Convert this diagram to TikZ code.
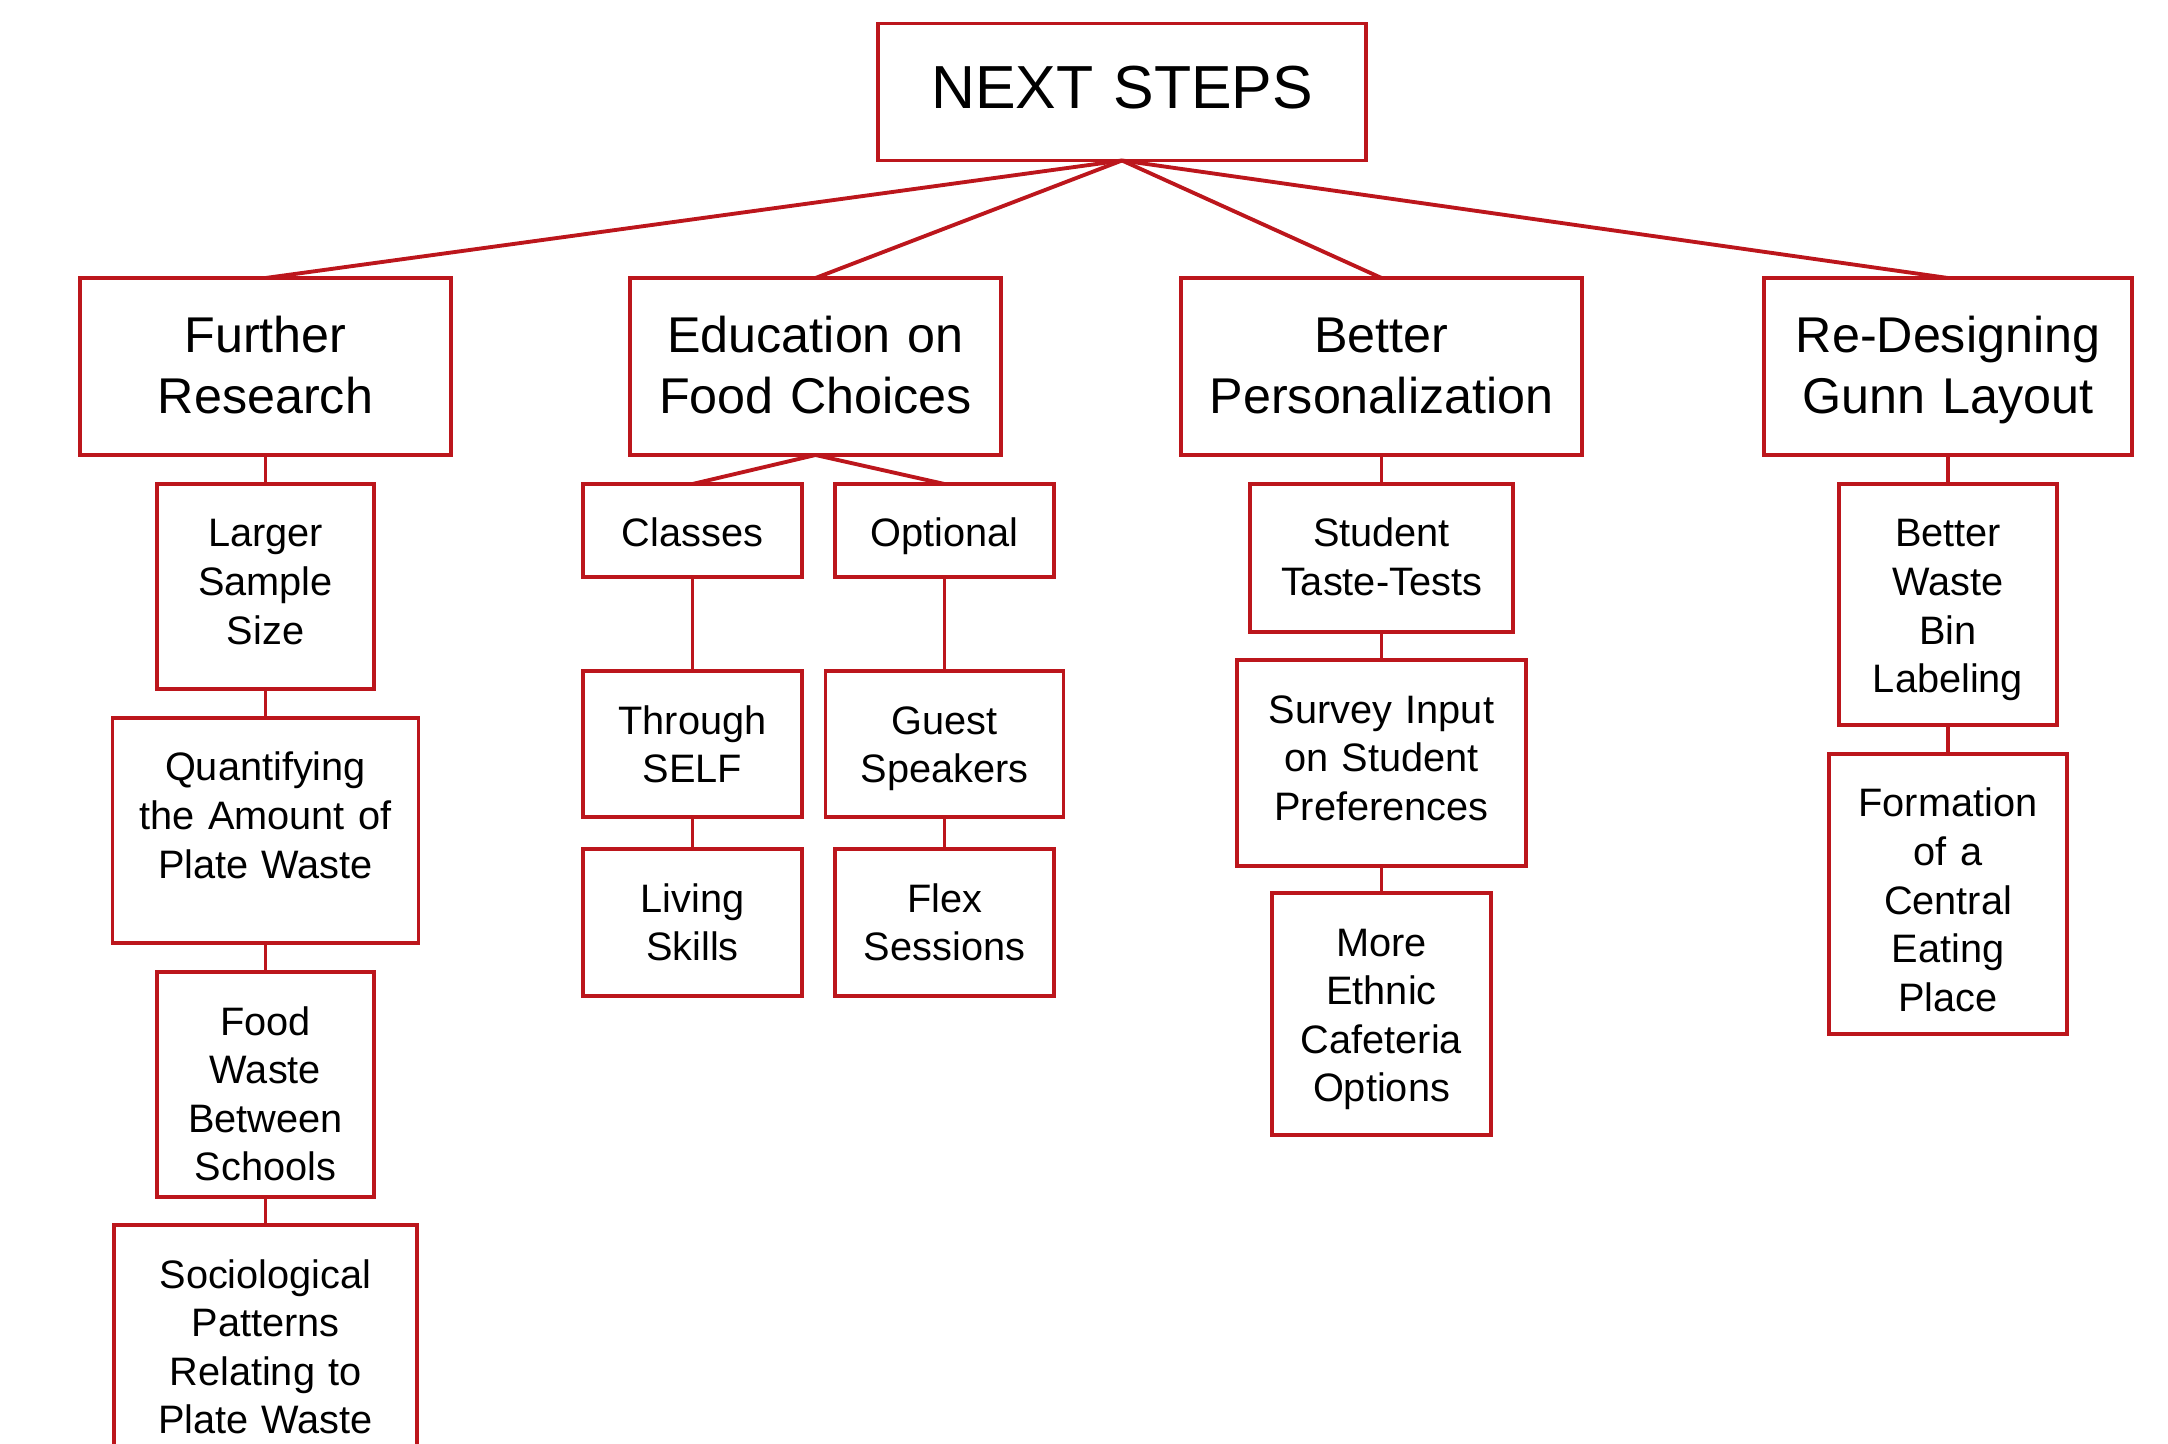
\documentclass[tikz,border=0pt]{standalone}
\usepackage{fontspec}
\setmainfont{Liberation Sans}
\usetikzlibrary{positioning}
\definecolor{stepred}{RGB}{188,22,28}

\begin{document}
\begin{tikzpicture}[node distance=0.29cm,
    base/.style={draw=stepred, line width=1.1pt, align=center, inner sep=0pt, outer sep=0pt},
    box/.style 2 args={base, text width=#1, text height=0.63cm, text depth=#2,
      font=\fontsize{11.3}{13.8}\selectfont},
    topic/.style={base, text width=#1, text height=0.75cm, text depth=1.02cm,
      font=\fontsize{14.3}{17.3}\selectfont},
    every edge/.style={draw=stepred, line width=1.1pt}]
  \useasboundingbox (0,0) rectangle (21.68,-14.44);
  \clip (0,0) rectangle (21.68,-14.44);
  % top
  \node[base, text width=4.88cm, text height=0.85cm, text depth=0.52cm,
    font=\fontsize{17.3}{20}\selectfont] (root) at (11.22,-0.92) {NEXT STEPS};
  \node[topic=3.71cm] (research) at (2.655,-3.665) {Further\\Research};
  \node[topic=3.71cm] (educ) at (8.155,-3.665) {Education on\\Food Choices};
  \node[topic=4.01cm] (person) at (13.815,-3.665) {Better\\Personalization};
  \node[topic=3.68cm] (layout) at (19.48,-3.665) {Re-Designing\\Gunn Layout};
  % first column
  \node[box={2.17cm}{1.42cm}] (sample) [below=of research] {Larger\\Sample\\Size};
  \node[box={3.06cm}{1.62cm}] (amount) [below=of sample] {Quantifying\\the Amount of\\Plate Waste};
  \node[box={2.17cm}{1.62cm}] (schools) [below=of amount] {Food\\Waste\\Between\\Schools};
  \node[box={3.03cm}{1.87cm}] (socio) [below=0.28cm of schools] {Sociological\\Patterns\\Relating to\\Plate Waste};
  % second column
  \node[box={2.19cm}{0.30cm}] (classes) at (6.925,-5.305) {Classes};
  \node[box={2.19cm}{0.30cm}] (optional) at (9.445,-5.305) {Optional};
  \node[box={2.19cm}{0.83cm}] (self) [below=0.94cm of classes] {Through\\SELF};
  \node[box={2.38cm}{0.83cm}] (guest) [below=0.94cm of optional] {Guest\\Speakers};
  \node[box={2.19cm}{0.84cm}] (living) [below=0.32cm of self] {Living\\Skills};
  \node[box={2.19cm}{0.84cm}] (flex) [below=0.32cm of guest] {Flex\\Sessions};
  % third column
  \node[box={2.63cm}{0.85cm}] (taste) [below=of person] {Student\\Taste-Tests};
  \node[box={2.89cm}{1.43cm}] (survey) [below=0.28cm of taste] {Survey Input\\on Student\\Preferences};
  \node[box={2.19cm}{1.79cm}] (ethnic) [below=0.27cm of survey] {More\\Ethnic\\Cafeteria\\Options};
  % fourth column
  \node[box={2.18cm}{1.78cm}] (labels) [below=of layout] {Better\\Waste\\Bin\\Labeling};
  \node[box={2.38cm}{2.17cm}] (central) [below=of labels] {Formation\\of a\\Central\\Eating\\Place};
  % links
  \path (root.south) edge (research.north)
        (root.south) edge (educ.north)
        (root.south) edge (person.north)
        (root.south) edge (layout.north)
        (research) edge (sample)
        (sample) edge (amount)
        (amount) edge (schools)
        (schools) edge (socio)
        (educ.south) edge (classes.north)
        (educ.south) edge (optional.north)
        (classes) edge (self)
        (self) edge (living)
        (optional) edge (guest)
        (guest) edge (flex)
        (person) edge (taste)
        (taste) edge (survey)
        (survey) edge (ethnic)
        (layout) edge (labels)
        (labels) edge (central);
\end{tikzpicture}
\end{document}
